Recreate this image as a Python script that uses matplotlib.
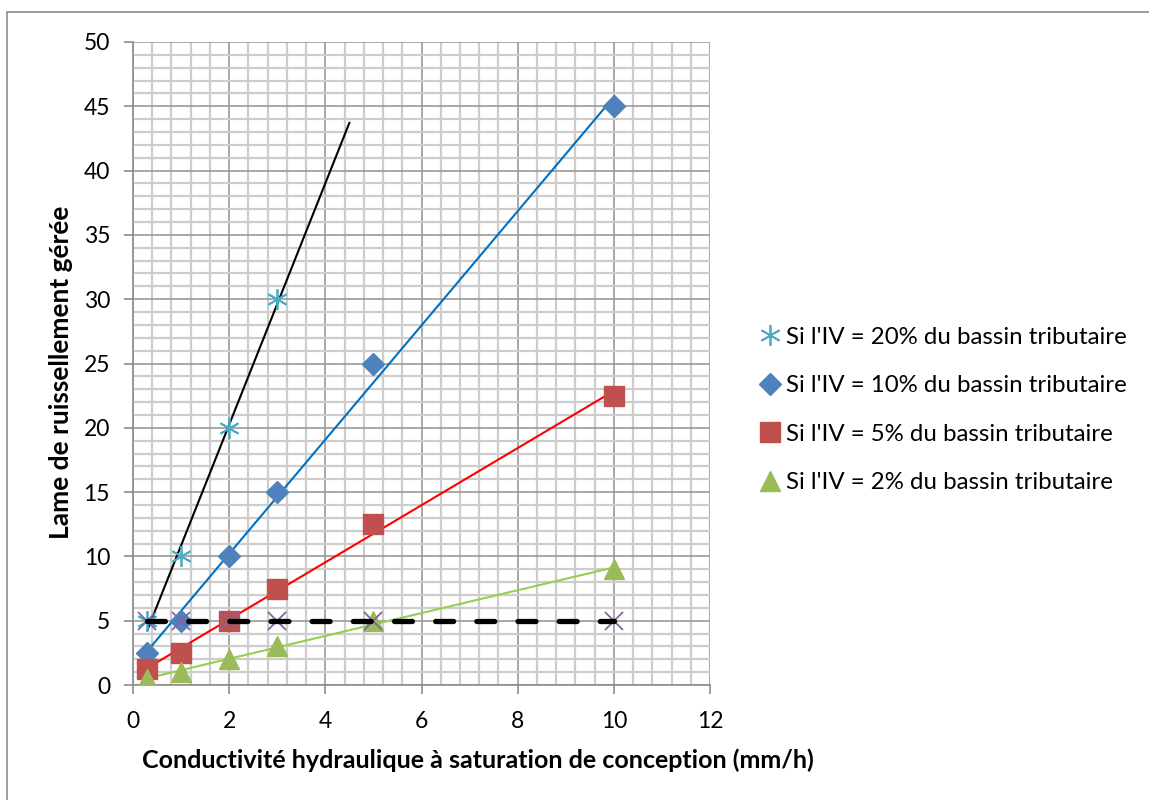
import numpy as np
import matplotlib
matplotlib.use("Agg")
import matplotlib.pyplot as plt
from matplotlib.patches import Rectangle
from matplotlib.ticker import MultipleLocator

plt.rcParams['font.family'] = ['Lato', 'DejaVu Sans']

# Data
x_20 = [0.3, 1, 2, 3]
y_20 = [5, 10, 20, 30]
x_all = [0.3, 1, 2, 3, 5, 10]
y_10 = [2.5, 5, 10, 15, 25, 45]
y_5 = [1.25, 2.5, 5, 7.5, 12.5, 22.5]
y_2 = [0.5, 1, 2, 3, 5, 9]
y_ref = [5, 5, 5, 5, 5, 5]
forecast_20 = 1.5

labels = ["Si l'IV = 20% du bassin tributaire",
          "Si l'IV = 10% du bassin tributaire",
          "Si l'IV = 5% du bassin tributaire",
          "Si l'IV = 2% du bassin tributaire"]
xlabel = "Conductivité hydraulique à saturation de conception (mm/h)"
ylabel = "Lame de ruissellement gérée"

W, H = 1149, 800
fig = plt.figure(figsize=(W/100, H/100), dpi=100)
ax = fig.add_axes([133/W, 1-685/H, (710-133)/W, (685-42)/H])

# outer border
fig.patches.append(Rectangle((7/W, -0.05), 1.2, 1-12/H+0.05, transform=fig.transFigure,
                             fill=False, edgecolor='#8c8c8c', linewidth=1.2))

ax.set_xlim(0, 12)
ax.set_ylim(0, 50)
ax.xaxis.set_major_locator(MultipleLocator(2))
ax.xaxis.set_minor_locator(MultipleLocator(0.4))
ax.yaxis.set_major_locator(MultipleLocator(5))
ax.yaxis.set_minor_locator(MultipleLocator(1))
ax.grid(which='minor', color='#cdcdcd', linewidth=1.6, zorder=0)
ax.grid(which='major', color='#9a9a9a', linewidth=1.2, zorder=0)
ax.set_axisbelow(True)
ax.tick_params(which='minor', length=0)
ax.tick_params(which='major', length=6.5, width=1.2, color='#8c8c8c', labelsize=16.5)
ax.tick_params(axis='y', pad=10)
ax.tick_params(axis='x', pad=12)
for s in ['top', 'right']:
    ax.spines[s].set_visible(False)
for s in ['left', 'bottom']:
    ax.spines[s].set_color('#8c8c8c')
    ax.spines[s].set_linewidth(1.2)

def trend(xs, ys, x_end):
    p = np.polyfit(xs, ys, 1)
    xx = np.array([min(xs), x_end])
    return xx, np.polyval(p, xx)

# trendlines
tx, ty = trend(x_20, y_20, max(x_20) + forecast_20)
ax.plot(tx, ty, color='black', lw=1.5, zorder=3)
tx, ty = trend(x_all, y_10, max(x_all))
ax.plot(tx, ty, color='#0070C0', lw=1.5, zorder=3)
tx, ty = trend(x_all, y_5, max(x_all))
ax.plot(tx, ty, color='#FF0000', lw=1.5, zorder=3)
tx, ty = trend(x_all, y_2, max(x_all))
ax.plot(tx, ty, color='#92D050', lw=1.5, zorder=3)

# markers
ax.plot(x_20, y_20, ls='none', marker=(6, 2, 0), ms=15, mew=1.3, color='#4BACC6', zorder=4, label=labels[0])
ax.plot(x_all, y_10, ls='none', marker='D', ms=11, color='#4F81BD', zorder=4, label=labels[1])
ax.plot(x_all, y_5, ls='none', marker='s', ms=14, color='#C0504D', zorder=4, label=labels[2])
ax.plot(x_all, y_2, ls='none', marker='^', ms=15, color='#9BBB59', zorder=4, label=labels[3])
ax.plot(x_all, y_ref, ls='none', marker='x', ms=13, mew=1.3, color='#8064A2', zorder=4)

# dashed reference line
tx, ty = trend(x_all, y_ref, max(x_all))
ln, = ax.plot(tx, ty, color='black', lw=3.8, solid_capstyle='round', dash_capstyle='round', zorder=5)
ln.set_dashes((3.4, 4.4))

fig.text(478/W, 1-760/H, xlabel, fontsize=18, fontweight='bold', ha='center', va='center')
fig.text(61/W, 1-372/H, ylabel, fontsize=19, fontweight='bold', ha='center', va='center',
         rotation=90)

leg = fig.legend(loc='center left', bbox_to_anchor=(760/W, 1-410/H), frameon=False, fontsize=17.3,
                 handlelength=0.85, handletextpad=0.25, labelspacing=1.15, borderaxespad=0,
                 borderpad=0)

fig.savefig('out.png', dpi=100)
